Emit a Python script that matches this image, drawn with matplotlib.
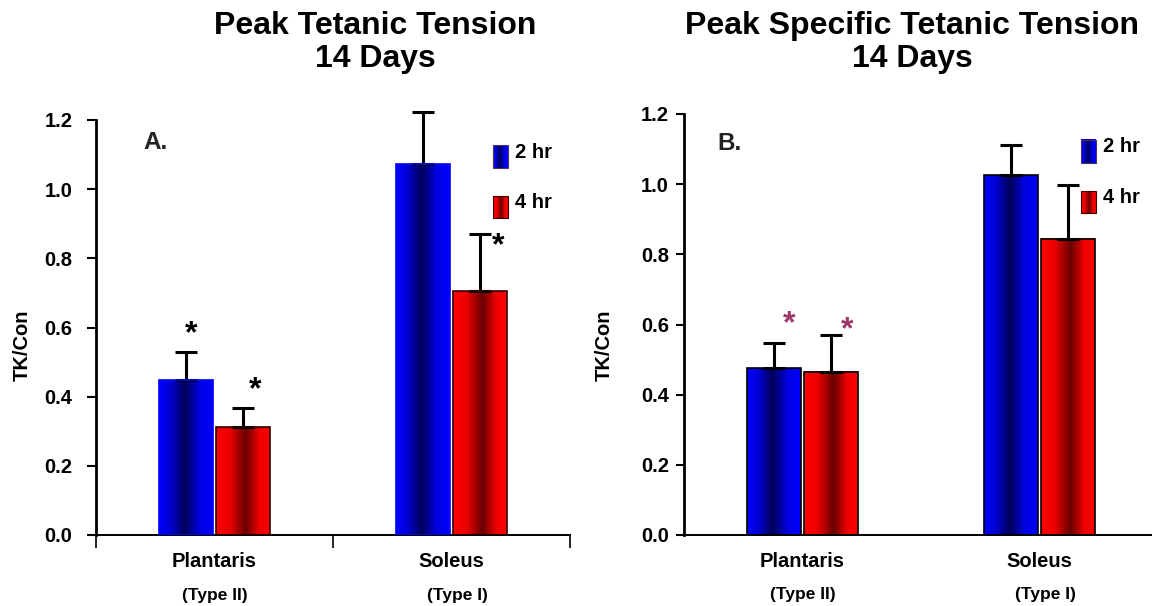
import numpy as np
import matplotlib
matplotlib.use("Agg")
from matplotlib import pyplot as plt
from matplotlib.colors import LinearSegmentedColormap
from matplotlib.patches import Rectangle
from matplotlib.transforms import blended_transform_factory

plt.rcParams['font.family'] = ['Liberation Sans', 'DejaVu Sans']
plt.rcParams['font.weight'] = 'bold'

# data
muscles = ["Plantaris", "Soleus"]
fiber_types = ["(Type II)", "(Type I)"]
series = ["2 hr", "4 hr"]
y_ticks = [0.0, 0.2, 0.4, 0.6, 0.8, 1.0, 1.2]

# A. peak tetanic tension
a_2hr = [0.448, 1.072]
a_2hr_err = [0.082, 0.150]
a_4hr = [0.312, 0.705]
a_4hr_err = [0.056, 0.165]
# (series, muscle, dx, dy from error top)
a_stars = [(0, 0, 0.02, 0.075), (1, 0, 0.05, 0.075), (1, 1, 0.075, -0.01)]

# B. peak specific tetanic tension
b_2hr = [0.476, 1.026]
b_2hr_err = [0.071, 0.085]
b_4hr = [0.465, 0.844]
b_4hr_err = [0.105, 0.154]
b_stars = [(0, 0, 0.065, 0.077), (1, 0, 0.068, 0.037)]

blue_map = LinearSegmentedColormap.from_list(
    "blue", [(0, "#0000ff"), (0.2, "#0000d8"), (0.48, "#000058"), (0.75, "#0000e0"), (1, "#0000ff")])
red_map = LinearSegmentedColormap.from_list(
    "red", [(0, "#ff0000"), (0.25, "#ee0000"), (0.55, "#680000"), (0.8, "#ee0000"), (1, "#ff0000")])
grad = np.linspace(0, 1, 256)[None, :]

W = 1152
H = 606
fig = plt.figure(figsize=(W / 100, H / 100), dpi=100)


def gradient_box(ax, x0, y0, w, h, cmap, transform):
    ax.imshow(grad, cmap=cmap, aspect='auto', extent=(x0, x0 + w, y0, y0 + h),
              transform=transform, interpolation='bilinear', zorder=2)


def panel(rect, vals2, err2, vals4, err4, stars, star_color, letter,
          blue_edge, red_edge, tick_pad, tick_len, xticks_on, type_y):
    ax = fig.add_axes(rect)
    x = np.array([0.5, 1.5])
    w = 0.225
    off = 0.1205
    groups = []
    for vals, errs, cmap, edge, sgn in [(vals2, err2, blue_map, blue_edge, -1),
                                        (vals4, err4, red_map, red_edge, 1)]:
        bars = ax.bar(x + sgn * off, vals, w, facecolor='none', edgecolor=edge,
                      linewidth=1.2, zorder=3)
        for p in bars:
            gradient_box(ax, p.get_x(), p.get_y(), p.get_width(), p.get_height(),
                         cmap, ax.transData)
        eb = ax.errorbar(x + sgn * off, vals, yerr=[np.zeros(len(vals)), errs], fmt='none',
                         ecolor='black', elinewidth=2.2, capsize=8, capthick=2.2, zorder=2.5)
        for art in eb.lines[1] + eb.lines[2]:
            art.set_clip_on(False)
        groups.append((x + sgn * off, np.array(vals) + np.array(errs)))

    for s, m, dx, dy in stars:
        xs, tops = groups[s]
        ax.annotate('*', xy=(xs[m] + dx, tops[m] + dy), xytext=(0, -12),
                    textcoords='offset points', ha='center', va='baseline',
                    fontsize=23, color=star_color, fontweight='bold')

    # legend
    for i, (lab, cmap, y0, h) in enumerate([(series[0], blue_map, 0.884, 0.055),
                                            (series[1], red_map, 0.765, 0.051)]):
        gradient_box(ax, 0.838, y0, 0.031, h, cmap, ax.transAxes)
        ax.add_patch(Rectangle((0.838, y0), 0.031, h, transform=ax.transAxes,
                               facecolor='none', edgecolor='#400000' if i else '#503060',
                               linewidth=0.8, zorder=3))
        ax.text(0.883, y0 + h * 0.7, lab, transform=ax.transAxes, ha='left',
                va='center', fontsize=14.5, fontweight='bold')

    ax.text(letter[1], letter[2], letter[0], transform=ax.transAxes, ha='left',
            va='baseline', fontsize=17.5, fontweight='bold', color='#222222')

    ax.set_xlim(0, 2)
    ax.set_ylim(0, 1.2)
    ax.set_yticks(y_ticks)
    ax.set_yticklabels([f"{v:.1f}" for v in y_ticks], fontsize=14.5, fontweight='bold')
    ax.tick_params(axis='y', length=tick_len, width=1.5, pad=tick_pad, direction='out')
    ax.set_xticks(x)
    ax.set_xticklabels(muscles, fontsize=14.5, fontweight='bold')
    ax.tick_params(axis='x', length=0, pad=12)
    if xticks_on:
        ax.set_xticks([0, 1, 2], minor=True)
        ax.tick_params(axis='x', which='minor', length=9, width=1.2, direction='out')
    for sp in ['top', 'right']:
        ax.spines[sp].set_visible(False)
    ax.spines['left'].set_linewidth(2)
    ax.spines['bottom'].set_linewidth(1.4)

    tr = blended_transform_factory(ax.transData, ax.transAxes)
    for xi, t in zip(x + np.array([0.0, 0.025]), fiber_types):
        ax.text(xi, type_y, t, transform=tr, ha='center', va='baseline',
                fontsize=12.5, fontweight='bold')
    return ax


panel([96 / W, 71 / H, 474 / W, 415 / H], a_2hr, a_2hr_err, a_4hr, a_4hr_err,
      a_stars, 'black', ("A.", 0.099, 0.93), '#0000ff', '#300000',
      10.5, 6.5, True, -0.157)
panel([684 / W, 71 / H, 474 / W, 421 / H], b_2hr, b_2hr_err, b_4hr, b_4hr_err,
      b_stars, '#9b3a6b', ("B.", 0.07, 0.914), 'black', 'black',
      5, 5.8, False, -0.153)

fig.text(375 / W, 1 - 34 / H, "Peak Tetanic Tension", ha='center', va='baseline',
         fontsize=23, fontweight='bold')
fig.text(375 / W, 1 - 67 / H, "14 Days", ha='center', va='baseline',
         fontsize=23, fontweight='bold')
fig.text(912 / W, 1 - 34 / H, "Peak Specific Tetanic Tension", ha='center', va='baseline',
         fontsize=23, fontweight='bold')
fig.text(912 / W, 1 - 67 / H, "14 Days", ha='center', va='baseline',
         fontsize=23, fontweight='bold')

fig.text(22 / W, 1 - 345 / H, "TK/Con", rotation=90, ha='center', va='center',
         fontsize=14.5, fontweight='bold')
fig.text(604 / W, 1 - 345 / H, "TK/Con", rotation=90, ha='center', va='center',
         fontsize=14.5, fontweight='bold')

fig.savefig("out.png", dpi=100)
